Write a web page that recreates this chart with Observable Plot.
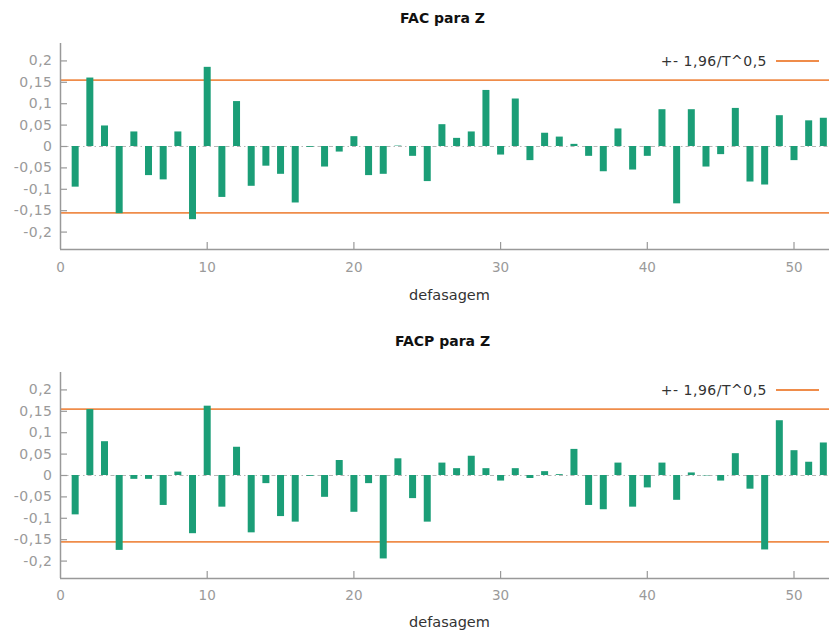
<!DOCTYPE html>
<html><head><meta charset="utf-8">
<script src="https://cdn.jsdelivr.net/npm/d3@7"></script>
<script src="https://cdn.jsdelivr.net/npm/@observablehq/plot@0.6"></script>
<style>
body{margin:0;background:#fff;}
#c{position:relative;width:829px;height:632px;font-family:"DejaVu Sans",sans-serif;overflow:hidden;}
.panel{position:absolute;left:0;}
.legend{position:absolute;right:10px;height:16px;line-height:16px;font-size:14px;letter-spacing:0.5px;color:#333;display:flex;align-items:center;white-space:nowrap;}
.legend .sw{display:inline-block;width:43px;height:0;border-top:2px solid #ef8c4a;margin-left:9px;}
.ytl text{letter-spacing:0.5px;}
</style></head><body><div id="c"></div>
<script>
const lags = [1,2,3,4,5,6,7,8,9,10,11,12,13,14,15,16,17,18,19,20,21,22,23,24,25,26,27,28,29,30,31,32,33,34,35,36,37,38,39,40,41,42,43,44,45,46,47,48,49,50,51,52];
const facValues = [-0.095,0.160,0.048,-0.157,0.034,-0.068,-0.078,0.034,-0.171,0.185,
  -0.119,0.105,-0.093,-0.046,-0.065,-0.132,-0.002,-0.048,-0.013,0.023,
  -0.068,-0.065,0.001,-0.023,-0.082,0.051,0.019,0.034,0.131,-0.020,
  0.111,-0.033,0.031,0.022,0.005,-0.023,-0.059,0.041,-0.055,-0.023,
  0.086,-0.134,0.086,-0.048,-0.019,0.089,-0.083,-0.090,0.072,-0.033,
  0.060,0.066];
const facpValues = [-0.092,0.154,0.079,-0.175,-0.009,-0.009,-0.070,0.008,-0.136,0.162,
  -0.074,0.066,-0.134,-0.019,-0.096,-0.109,-0.002,-0.051,0.035,-0.086,
  -0.019,-0.195,0.039,-0.054,-0.109,0.029,0.016,0.045,0.016,-0.013,
  0.016,-0.007,0.009,0.002,0.061,-0.070,-0.080,0.029,-0.074,-0.029,
  0.029,-0.058,0.006,-0.001,-0.013,0.051,-0.032,-0.174,0.128,0.058,
  0.031,0.076];
const bandValues = [0.155, -0.155];
const yTicks = [-0.2,-0.15,-0.1,-0.05,0,0.05,0.1,0.15,0.2];
const yTickLabels = ["-0,2","-0,15","-0,1","-0,05","0","0,05","0,1","0,15","0,2"];
const xTicks = [0,10,20,30,40,50];
const xTickLabels = ["0","10","20","30","40","50"];
const titles = ["FAC para Z", "FACP para Z"];
const xLabel = "defasagem";
const legendLabel = "+- 1,96/T^0,5";

const green = "#1b9e77", orange = "#ef8c4a", axisColor = "#999";
const W = 829, H = 316, mT = 43, mB = 67, mL = 60, mR = 0;
const plotH = H - mT - mB, plotW = W - mL - mR;
const yDom = [-0.2407, 0.2407], xDom = [0, 52.42];

const container = document.getElementById("c");

function panel(title, values, top, titleDy, tickPad, labelDy) {
  const data = lags.map((lag, i) => ({lag, value: values[i]}));
  const svg = Plot.plot({
    width: W, height: H,
    marginTop: mT, marginBottom: mB, marginLeft: mL, marginRight: mR,
    style: {fontFamily: "DejaVu Sans, sans-serif", fontSize: "13px", background: "#fff"},
    x: {domain: xDom},
    y: {domain: yDom},
    marks: [
      Plot.ruleY([0], {stroke: "#b5b5b5", strokeDasharray: "1.5,3,4,3"}),
      Plot.ruleY(bandValues, {y: d => d, stroke: orange, strokeWidth: 1.6}),
      Plot.ruleX(data, {x: "lag", y1: 0, y2: "value", stroke: green, strokeWidth: 7}),
      Plot.ruleX([xDom[0]], {x: d => d, stroke: axisColor, strokeWidth: 1.5}),
      Plot.ruleY([yDom[0]], {y: d => d, stroke: axisColor, strokeWidth: 1.5}),
      Plot.tickX(xTicks.slice(1), {x: d => d, insetTop: plotH - 7, stroke: axisColor, strokeWidth: 1.2}),
      Plot.tickY(yTicks, {y: d => d, insetRight: plotW - 7, stroke: axisColor, strokeWidth: 1.2}),
      Plot.axisY({ticks: yTicks, tickSize: 0, tickPadding: 8, fontSize: 14, color: "#9a9a9a",
        tickFormat: d => yTickLabels[yTicks.indexOf(d)], label: null, className: "ytl"}),
      Plot.axisX({ticks: xTicks, tickSize: 0, tickPadding: tickPad, fontSize: 13.5, color: "#9a9a9a",
        tickFormat: d => xTickLabels[xTicks.indexOf(d)], label: null}),
      Plot.text([title], {text: d => d, frameAnchor: "top", dy: titleDy, dx: -2.5, lineAnchor: "middle",
        fontWeight: "bold", fontSize: 14, fill: "#111"}),
      Plot.text([xLabel], {text: d => d, frameAnchor: "bottom", dy: labelDy, dx: 4.5, lineAnchor: "middle",
        fontSize: 14.5, fill: "#333"})
    ]
  });
  svg.classList.add("panel");
  svg.style.top = top + "px";
  container.appendChild(svg);
  const lg = document.createElement("div");
  lg.className = "legend";
  lg.style.top = (top + 53) + "px";
  lg.innerHTML = `<span>${legendLabel}</span><span class="sw"></span>`;
  container.appendChild(lg);
}

panel(titles[0], facValues, 0, -24.5, 13, 45.5);
panel(titles[1], facpValues, 329, -31, 12, 43.5);
</script>
</body></html>
